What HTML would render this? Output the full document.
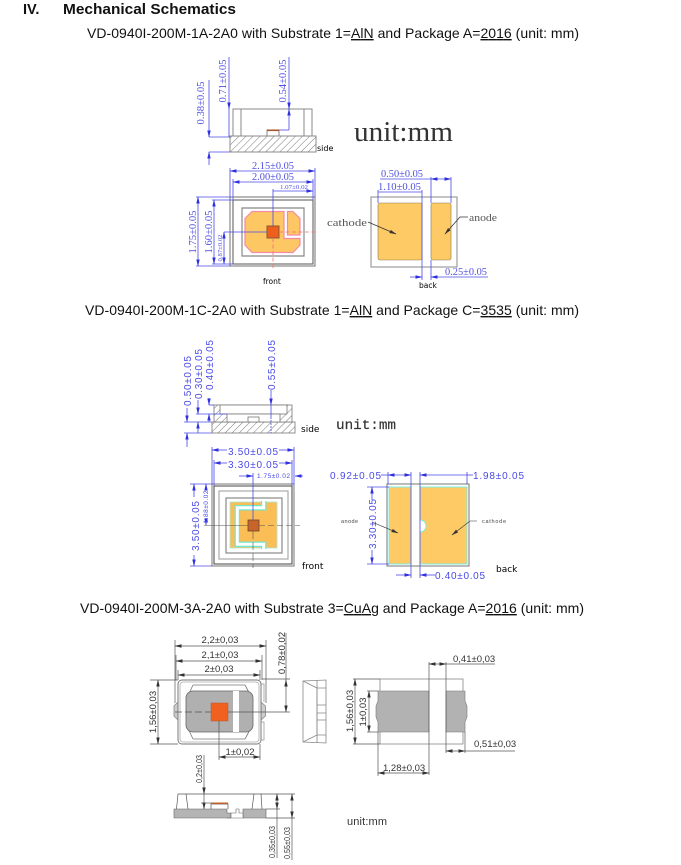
<!DOCTYPE html>
<html><head><meta charset="utf-8"><style>
html,body{margin:0;padding:0;background:#fff}
svg{display:block}
.t{font-family:"Liberation Sans",sans-serif;font-size:14px;fill:#111}
.h{font-family:"Liberation Sans",sans-serif;font-size:14.5px;font-weight:bold;fill:#111}
.u{text-decoration:underline}
.b{font-family:"Liberation Serif",serif;font-size:10px;fill:#5050e0}
.m{font-family:"Liberation Sans",sans-serif;font-size:10px;fill:#4a4ae8}
.s{font-family:"Liberation Sans",sans-serif;font-size:9.5px;fill:#333}
.k{font-family:"DejaVu Sans",sans-serif;font-size:8px;fill:#000}
.bl path,.bl line,.bl polyline{stroke:#4a4ae8;stroke-width:.8;fill:none}
.d{filter:blur(.3px)}
</style></head><body>
<svg width="681" height="865" viewBox="0 0 681 865" xmlns="http://www.w3.org/2000/svg">
<defs>
<pattern id="hatch" width="5" height="5" patternUnits="userSpaceOnUse" patternTransform="rotate(-45)"><rect width="5" height="5" fill="#fff"/><line x1="0" y1="0" x2="5" y2="0" stroke="#777" stroke-width="1"/></pattern>
<marker id="a" markerWidth="7" markerHeight="5" refX="6.5" refY="2.5" orient="auto-start-reverse" markerUnits="userSpaceOnUse"><path d="M0 .8L7 2.5L0 4.2z" fill="#3030e0"/></marker>
<marker id="g" markerWidth="7" markerHeight="5" refX="6.5" refY="2.5" orient="auto-start-reverse" markerUnits="userSpaceOnUse"><path d="M0 .8L7 2.5L0 4.2z" fill="#333"/></marker>
</defs>

<text class="h" x="23" y="14">IV.</text>
<text class="h" x="63" y="14" textLength="173" lengthAdjust="spacingAndGlyphs">Mechanical Schematics</text>
<text class="t" x="87" y="38" textLength="492">VD-0940I-200M-1A-2A0 with Substrate 1=<tspan class="u">AlN</tspan> and Package A=<tspan class="u">2016</tspan> (unit: mm)</text>
<text class="t" x="85" y="315" textLength="494">VD-0940I-200M-1C-2A0 with Substrate 1=<tspan class="u">AlN</tspan> and Package C=<tspan class="u">3535</tspan> (unit: mm)</text>
<text class="t" x="80" y="613" textLength="504">VD-0940I-200M-3A-2A0 with Substrate 3=<tspan class="u">CuAg</tspan> and Package A=<tspan class="u">2016</tspan> (unit: mm)</text>

<g class="d">
<!-- Diagram 1 side -->
<g fill="none" stroke="#888" stroke-width="1">
<rect x="233" y="109" width="79" height="27"/><line x1="241" y1="109" x2="241" y2="136"/><line x1="304" y1="109" x2="304" y2="136"/>
<rect x="230" y="136" width="86" height="16" fill="url(#hatch)"/>
<rect x="267" y="130" width="12" height="6"/></g>
<rect x="267" y="129.5" width="12" height="1.6" fill="#a5552a"/>
<g class="bl">
<line x1="229" y1="57" x2="229" y2="109" marker-end="url(#a)"/><line x1="229" y1="109" x2="229" y2="137"/>
<line x1="289" y1="57" x2="289" y2="109" marker-end="url(#a)"/><line x1="289" y1="109" x2="289" y2="130" marker-start="url(#a)"/><line x1="279" y1="130" x2="289" y2="130"/>
<line x1="209" y1="80" x2="209" y2="137" marker-end="url(#a)"/><line x1="209" y1="137" x2="230" y2="137"/>
<line x1="209" y1="152" x2="230" y2="152"/><line x1="209" y1="165" x2="209" y2="152" marker-end="url(#a)"/>
</g>
<g class="b">
<text transform="translate(204,103) rotate(-90)" text-anchor="middle" textLength="43" lengthAdjust="spacingAndGlyphs">0.38±0.05</text>
<text transform="translate(226,81) rotate(-90)" text-anchor="middle" textLength="43" lengthAdjust="spacingAndGlyphs">0.71±0.05</text>
<text transform="translate(286,81) rotate(-90)" text-anchor="middle" textLength="43" lengthAdjust="spacingAndGlyphs">0.54±0.05</text>
</g>
<text class="k" x="317" y="151">side</text>
<text x="354" y="141" textLength="99" lengthAdjust="spacingAndGlyphs" style="font-family:'Liberation Serif',serif;font-size:29px;fill:#333">unit:mm</text>

<!-- Diagram 1 front -->
<g fill="#fff" stroke="#888">
<rect x="230" y="197" width="85" height="69" stroke-width="1.2"/>
<rect x="233" y="200" width="80" height="64" stroke-width="1" stroke="#555"/>
<path d="M242 208H304V256H242z" fill="#fff" stroke="#888" stroke-width="1.2"/>
</g>
<path d="M252 211.500H284V238.500H300V245L293 252.500H252L245 245V218.500z" fill="#fdc763" stroke="#f58aa6" stroke-width="1.2"/>
<path d="M287.500 211.500H293L300 218.500V235H287.500z" fill="#fdc763" stroke="#f58aa6" stroke-width="1.2"/>
<rect x="267" y="226" width="12" height="12" fill="#ee5f1d" stroke="#8a5a2c" stroke-width="1"/>
<g stroke="#ee7070" stroke-width=".8" stroke-dasharray="4 2.500"><line x1="279" y1="232" x2="316" y2="232"/><line x1="273" y1="238" x2="273" y2="268"/></g>
<g class="bl">
<line x1="230" y1="171" x2="315" y2="171" marker-start="url(#a)" marker-end="url(#a)"/>
<line x1="233" y1="182" x2="313" y2="182" marker-start="url(#a)" marker-end="url(#a)"/>
<line x1="273" y1="191" x2="313" y2="191" marker-end="url(#a)"/>
<line x1="230" y1="168" x2="230" y2="197"/><line x1="315" y1="168" x2="315" y2="197"/><line x1="233" y1="179" x2="233" y2="200"/><line x1="313" y1="179" x2="313" y2="200"/>
<line x1="273" y1="189" x2="273" y2="226"/>
<line x1="198" y1="197" x2="198" y2="266" marker-start="url(#a)" marker-end="url(#a)"/><line x1="196" y1="197" x2="230" y2="197"/><line x1="196" y1="266" x2="230" y2="266"/>
<line x1="214" y1="200" x2="214" y2="264" marker-start="url(#a)" marker-end="url(#a)"/><line x1="212" y1="200" x2="233" y2="200"/><line x1="212" y1="264" x2="233" y2="264"/>
<line x1="224" y1="232" x2="224" y2="264" marker-start="url(#a)" marker-end="url(#a)"/><line x1="224" y1="232" x2="267" y2="232"/>
</g>
<g class="b">
<text x="252" y="169" textLength="42" lengthAdjust="spacingAndGlyphs">2.15±0.05</text>
<text x="252" y="180" textLength="42" lengthAdjust="spacingAndGlyphs">2.00±0.05</text>
<text x="280" y="189" textLength="28" lengthAdjust="spacingAndGlyphs" style="font-size:6px">1.07±0.02</text>
<text transform="translate(196,232) rotate(-90)" text-anchor="middle" textLength="43" lengthAdjust="spacingAndGlyphs">1.75±0.05</text>
<text transform="translate(212,232) rotate(-90)" text-anchor="middle" textLength="43" lengthAdjust="spacingAndGlyphs">1.60±0.05</text>
<text transform="translate(222,248) rotate(-90)" text-anchor="middle" textLength="27" lengthAdjust="spacingAndGlyphs" style="font-size:6px">0.87±0.02</text>
</g>
<text class="k" x="263" y="284" style="font-size:7.500px">front</text>

<!-- Diagram 1 back -->
<rect x="371" y="197" width="86" height="70" fill="#fff" stroke="#888" stroke-width="1"/>
<rect x="378" y="203" width="44" height="57" rx="2" fill="#fdca66" stroke="#8a7a50" stroke-width=".6"/>
<rect x="431" y="203" width="20" height="57" rx="2" fill="#fdca66" stroke="#8a7a50" stroke-width=".6"/>
<g class="bl">
<line x1="380" y1="179" x2="431" y2="179"/><line x1="431" y1="179" x2="451" y2="179" marker-start="url(#a)" marker-end="url(#a)"/>
<line x1="431" y1="177" x2="431" y2="203"/><line x1="451" y1="177" x2="451" y2="203"/>
<line x1="378" y1="192" x2="422" y2="192"/><line x1="378" y1="190" x2="378" y2="203"/><line x1="422" y1="190" x2="422" y2="280"/><line x1="431" y1="260" x2="431" y2="280"/>
<line x1="410" y1="277" x2="422" y2="277" marker-end="url(#a)"/><line x1="431" y1="277" x2="488" y2="277" marker-start="url(#a)"/>
</g>
<g stroke="#333" stroke-width=".8" fill="none">
<path d="M368 222L396 234" marker-end="url(#g)"/><path d="M468 217H460L445 234" marker-end="url(#g)"/></g>
<g class="b">
<text x="381" y="177" textLength="42" lengthAdjust="spacingAndGlyphs">0.50±0.05</text>
<text x="378" y="190" textLength="43" lengthAdjust="spacingAndGlyphs">1.10±0.05</text>
<text x="445" y="275" textLength="42" lengthAdjust="spacingAndGlyphs">0.25±0.05</text>
</g>
<g style="font-family:'Liberation Serif',serif;font-size:11px;fill:#555">
<text x="327" y="226" textLength="40" lengthAdjust="spacingAndGlyphs">cathode</text><text x="469" y="221" textLength="28" lengthAdjust="spacingAndGlyphs">anode</text></g>
<text class="k" x="419" y="288" style="font-size:7.500px">back</text>

<!-- Diagram 2 side -->
<g stroke="#777" stroke-width=".8">
<rect x="212" y="422" width="83" height="11" fill="url(#hatch)"/>
<rect x="214" y="405" width="78" height="17" fill="url(#hatch)"/>
<rect x="220" y="405" width="67" height="9" fill="#fff"/>
<rect x="227" y="414" width="53" height="8" fill="#fff"/>
<rect x="248" y="417" width="11" height="5" fill="#fff"/></g>
<g class="bl">
<line x1="209" y1="398" x2="209" y2="405" marker-end="url(#a)"/><line x1="209" y1="405" x2="214" y2="405"/><line x1="209" y1="414" x2="209" y2="422" marker-start="url(#a)"/>
<line x1="198" y1="400" x2="198" y2="414" marker-end="url(#a)"/><line x1="196" y1="414" x2="227" y2="414"/><line x1="198" y1="422" x2="198" y2="433" marker-start="url(#a)"/>
<line x1="187" y1="408" x2="187" y2="422" marker-end="url(#a)"/><line x1="184" y1="422" x2="212" y2="422"/><line x1="187" y1="433" x2="187" y2="447" marker-start="url(#a)"/><line x1="184" y1="433" x2="212" y2="433"/>
<line x1="271" y1="390" x2="271" y2="405" marker-end="url(#a)"/><line x1="271" y1="405" x2="271" y2="417"/><line x1="271" y1="417" x2="271" y2="433" stroke-dasharray="2 1"/>
</g>
<g class="m">
<text transform="translate(191,381) rotate(-90)" text-anchor="middle" textLength="50">0.50±0.05</text>
<text transform="translate(202,374) rotate(-90)" text-anchor="middle" textLength="50">0.30±0.05</text>
<text transform="translate(213,365) rotate(-90)" text-anchor="middle" textLength="50">0.40±0.05</text>
<text transform="translate(275,365) rotate(-90)" text-anchor="middle" textLength="50">0.55±0.05</text>
</g>
<text class="k" x="301" y="432" style="font-size:9px">side</text>
<text x="336" y="429" textLength="60" lengthAdjust="spacingAndGlyphs" style="font-family:'Liberation Mono',monospace;font-size:14px;fill:#333;stroke:#333;stroke-width:.2">unit:mm</text>

<!-- Diagram 2 front -->
<g fill="#fff">
<rect x="212" y="484" width="82" height="82" stroke="#777" stroke-width="1"/>
<rect x="214" y="486" width="78" height="78" stroke="#444" stroke-width="1"/>
<rect x="219" y="491" width="69" height="68" stroke="#aaa" stroke-width="1.200"/>
<rect x="226" y="498" width="56" height="55" stroke="#888" stroke-width="1.200"/>
</g>
<rect x="230" y="502" width="47" height="46" fill="#fbbd55" stroke="#a8ead8" stroke-width=".8"/>
<path d="M263.700 501V507.700H237.300V544.300H263.700V549" fill="none" stroke="#6fe8d0" stroke-width="5.500"/>
<path d="M263.700 501V507.700H237.300V544.300H263.700V549" fill="none" stroke="#fff" stroke-width="3"/>
<rect x="248" y="520" width="11" height="11" fill="#c8642a" stroke="#6a4a2a" stroke-width=".8"/>
<g stroke="#555" stroke-width=".6"><line x1="204" y1="525.500" x2="248" y2="525.500"/><line x1="259" y1="525.500" x2="300" y2="525.500" stroke-dasharray="6 3"/><line x1="253" y1="531" x2="253" y2="568" stroke-dasharray="8 3"/></g>
<g class="bl">
<line x1="212" y1="450" x2="227" y2="450" marker-start="url(#a)"/><line x1="279" y1="450" x2="294" y2="450" marker-end="url(#a)"/>
<line x1="214" y1="463" x2="227" y2="463" marker-start="url(#a)"/><line x1="279" y1="463" x2="292" y2="463" marker-end="url(#a)"/>
<line x1="212" y1="447" x2="212" y2="484"/><line x1="294" y1="447" x2="294" y2="484"/><line x1="292" y1="460" x2="292" y2="486"/><line x1="214" y1="460" x2="214" y2="486"/>
<line x1="239" y1="476" x2="253" y2="476" marker-end="url(#a)"/><line x1="295" y1="476" x2="303" y2="476" marker-start="url(#a)"/><line x1="253" y1="473" x2="253" y2="520"/>
<line x1="190" y1="484" x2="212" y2="484"/><line x1="190" y1="566" x2="212" y2="566"/>
<line x1="194" y1="484" x2="194" y2="497" marker-start="url(#a)"/><line x1="194" y1="555" x2="194" y2="566" marker-end="url(#a)"/>
<line x1="206" y1="484" x2="206" y2="490" marker-start="url(#a)"/><line x1="206" y1="518" x2="206" y2="525" marker-end="url(#a)"/>
</g>
<g class="m">
<text x="228" y="455" textLength="50">3.50±0.05</text>
<text x="228" y="468" textLength="50">3.30±0.05</text>
<text transform="translate(199,526) rotate(-90)" text-anchor="middle" textLength="50">3.50±0.05</text>
<text x="257" y="478" textLength="33" style="font-size:6.500px">1.75±0.02</text>
<text transform="translate(208,507) rotate(-90)" text-anchor="middle" textLength="33" style="font-size:6.500px">1.88±0.02</text>
</g>
<text class="k" x="302" y="569" style="font-size:9px">front</text>

<!-- Diagram 2 back -->
<rect x="387" y="484" width="82" height="82" fill="#fff" stroke="#777" stroke-width="1"/>
<rect x="389" y="487" width="22" height="77" fill="#fdca66" stroke="#7ceee0" stroke-width="1"/>
<rect x="420" y="487" width="47" height="77" fill="#fdca66" stroke="#7ceee0" stroke-width="1"/>
<path d="M420 520A6 6 0 0 1 420 532" fill="#fff" stroke="#7ceee0" stroke-width="1"/>
<g class="bl">
<line x1="388" y1="475" x2="411" y2="475" marker-start="url(#a)" marker-end="url(#a)"/><line x1="381" y1="475" x2="388" y2="475"/>
<line x1="420" y1="475" x2="467" y2="475" marker-start="url(#a)"/><line x1="467" y1="475" x2="473" y2="475"/>
<line x1="411" y1="472" x2="411" y2="578"/><line x1="420" y1="472" x2="420" y2="578"/><line x1="388" y1="472" x2="388" y2="484"/><line x1="467" y1="472" x2="467" y2="484"/>
<line x1="396" y1="575" x2="411" y2="575" marker-end="url(#a)"/><line x1="420" y1="575" x2="435" y2="575" marker-start="url(#a)"/>
<line x1="367" y1="487" x2="389" y2="487"/><line x1="367" y1="564" x2="389" y2="564"/>
<line x1="372" y1="487" x2="372" y2="500" marker-start="url(#a)"/><line x1="372" y1="550" x2="372" y2="564" marker-end="url(#a)"/>
</g>
<g class="m">
<text x="330" y="479" textLength="51">0.92±0.05</text>
<text x="473" y="479" textLength="51">1.98±0.05</text>
<text x="435" y="579" textLength="50">0.40±0.05</text>
<text transform="translate(376,524) rotate(-90)" text-anchor="middle" textLength="50">3.30±0.05</text>
</g>
<g stroke="#333" stroke-width=".6" fill="none"><path d="M372 522L398 533" marker-end="url(#g)"/><path d="M477 521H470L452 535" marker-end="url(#g)"/></g>
<g style="font-family:'Liberation Sans',sans-serif;font-size:5.500px;fill:#444"><text x="341" y="523" textLength="17">anode</text><text x="482" y="523" textLength="24">cathode</text></g>
<text class="k" x="496" y="572" style="font-size:9px">back</text>

<!-- Diagram 3 front -->
<path d="M178 702L174 706V716L178 720z" fill="#ccc" stroke="#888" stroke-width=".8"/>
<path d="M261 702L265.500 706V716L261 720z" fill="#ccc" stroke="#888" stroke-width=".8"/>
<path d="M261 684H264V702M261 722H264V740H261" fill="none" stroke="#999" stroke-width=".8"/>
<rect x="178" y="680" width="83" height="64" rx="4" fill="#fff" stroke="#777" stroke-width="1"/>
<rect x="180" y="682" width="79" height="60" rx="3" fill="#fff" stroke="#aaa" stroke-width=".8"/>
<path d="M193 685H245M193 739H245M186 700L193 685M253 700L245 685M186 724L193 739M253 724L245 739" stroke="#777" stroke-width=".8" fill="none"/>
<rect x="186" y="691" width="67" height="41" rx="7" fill="#b0b0b0" stroke="#666" stroke-width=".8"/>
<rect x="233" y="691" width="6" height="41" fill="#fff"/>
<rect x="211" y="703" width="17" height="18" fill="#f0601e" stroke="#b85a30" stroke-width=".5"/>
<g stroke="#555" stroke-width=".7" fill="none">
<line x1="228" y1="712" x2="290" y2="712"/><line x1="175" y1="712" x2="211" y2="712" stroke-dasharray="7 3"/><line x1="219" y1="721" x2="219" y2="760"/>
<line x1="175" y1="640" x2="175" y2="703"/><line x1="266" y1="640" x2="266" y2="703"/><line x1="176" y1="655" x2="176" y2="680"/><line x1="262" y1="655" x2="262" y2="680"/><line x1="178" y1="670" x2="178" y2="680"/><line x1="260" y1="670" x2="260" y2="680"/>
<line x1="175" y1="646" x2="266" y2="646" marker-start="url(#g)" marker-end="url(#g)"/>
<line x1="176" y1="661" x2="262" y2="661" marker-start="url(#g)" marker-end="url(#g)"/>
<line x1="178" y1="675" x2="260" y2="675" marker-start="url(#g)" marker-end="url(#g)"/>
<line x1="286" y1="633" x2="286" y2="680"/><line x1="286" y1="680" x2="286" y2="712" marker-start="url(#g)" marker-end="url(#g)"/><line x1="262" y1="679" x2="290" y2="679"/>
<line x1="158" y1="680" x2="158" y2="744" marker-start="url(#g)" marker-end="url(#g)"/><line x1="150" y1="680" x2="178" y2="680"/><line x1="150" y1="744" x2="178" y2="744"/>
<line x1="219" y1="757" x2="260" y2="757" marker-start="url(#g)" marker-end="url(#g)"/><line x1="260" y1="744" x2="260" y2="760"/>
</g>
<g class="s">
<text x="220" y="643" text-anchor="middle">2,2±0,03</text>
<text x="220" y="658" text-anchor="middle">2,1±0,03</text>
<text x="219" y="672" text-anchor="middle">2±0,03</text>
<text x="240" y="755" text-anchor="middle">1±0,02</text>
<text transform="translate(285,653) rotate(-90)" text-anchor="middle">0,78±0,02</text>
<text transform="translate(156,712) rotate(-90)" text-anchor="middle">1,56±0,03</text>
</g>
<!-- side view -->
<g fill="#fff" stroke="#888" stroke-width=".8">
<path d="M303 681L326 680V743L303 742z"/>
<path d="M303 681L317 688V735L303 742" fill="none"/>
<path d="M317 680V743M317 688H326M317 735H326M317 705H326M317 713H326M317 720H326" fill="none"/></g>

<!-- Diagram 3 back -->
<rect x="380" y="679" width="83" height="65" fill="#fff" stroke="#888" stroke-width=".8"/>
<path d="M378 691H429V732H378V722L376 717V706L378 701z" fill="#b2b2b2" stroke="#777" stroke-width=".6"/>
<path d="M446 691H465V701L467 706V717L465 722V732H446z" fill="#b2b2b2" stroke="#777" stroke-width=".6"/>
<g stroke="#555" stroke-width=".7" fill="none">
<line x1="429" y1="662" x2="429" y2="775"/><line x1="446" y1="662" x2="446" y2="753"/><line x1="465" y1="732" x2="465" y2="753"/>
<line x1="429" y1="664" x2="446" y2="664" marker-start="url(#g)" marker-end="url(#g)"/><line x1="446" y1="664" x2="495" y2="664"/>
<line x1="355" y1="679" x2="355" y2="744" marker-start="url(#g)" marker-end="url(#g)"/><line x1="353" y1="679" x2="380" y2="679"/><line x1="353" y1="744" x2="380" y2="744"/>
<line x1="369" y1="691" x2="369" y2="732" marker-start="url(#g)" marker-end="url(#g)"/><line x1="367" y1="691" x2="378" y2="691"/><line x1="367" y1="732" x2="378" y2="732"/>
<line x1="378" y1="732" x2="378" y2="776"/><line x1="378" y1="773" x2="429" y2="773" marker-start="url(#g)" marker-end="url(#g)"/>
<line x1="446" y1="751" x2="465" y2="751" marker-start="url(#g)" marker-end="url(#g)"/><line x1="465" y1="751" x2="515" y2="751"/>
</g>
<g class="s">
<text x="453" y="662">0,41±0,03</text><text x="474" y="747">0,51±0,03</text><text x="383" y="771">1,28±0,03</text>
<text transform="translate(353,711) rotate(-90)" text-anchor="middle">1,56±0,03</text>
<text transform="translate(366,712) rotate(-90)" text-anchor="middle">1±0,03</text>
</g>

<!-- Diagram 3 side -->
<path d="M174 809H227V813H231V818H174zM243 809H266V818H243z" fill="#b4b4b4" stroke="#666" stroke-width=".6"/>
<path d="M227 818H243V813H239V809H236V813H231V818" fill="#fff" stroke="#666" stroke-width=".6"/>
<g stroke="#555" stroke-width=".7" fill="none">
<line x1="178" y1="794" x2="261" y2="794"/><path d="M178 794L176.500 809M186 794L188 809M261 794L262 809M254 794L252 809"/>
<path d="M211 809V804H228V809"/></g>
<rect x="211" y="802.500" width="17" height="1.500" fill="#c0602a"/>
<g stroke="#555" stroke-width=".7" fill="none">
<line x1="204" y1="755" x2="204" y2="794" marker-end="url(#g)"/><line x1="204" y1="794" x2="204" y2="809" marker-end="url(#g)"/><line x1="201" y1="803" x2="211" y2="803"/>
<line x1="261" y1="794" x2="295" y2="794"/><line x1="266" y1="809" x2="280" y2="809"/><line x1="266" y1="818" x2="295" y2="818"/>
<line x1="277" y1="794" x2="277" y2="809" marker-start="url(#g)" marker-end="url(#g)"/><line x1="277" y1="809" x2="277" y2="858"/>
<line x1="292" y1="794" x2="292" y2="818" marker-start="url(#g)" marker-end="url(#g)"/><line x1="292" y1="818" x2="292" y2="860"/>
</g>
<g class="s" style="font-size:8.500px">
<text transform="translate(202,769) rotate(-90)" text-anchor="middle" textLength="28" lengthAdjust="spacingAndGlyphs">0,2±0,03</text>
<text transform="translate(275,842) rotate(-90)" text-anchor="middle" textLength="32" lengthAdjust="spacingAndGlyphs">0,35±0,03</text>
<text transform="translate(290,843) rotate(-90)" text-anchor="middle" textLength="32" lengthAdjust="spacingAndGlyphs">0,55±0,03</text>
</g>
<text x="347" y="825" textLength="40" style="font-family:'Liberation Sans',sans-serif;font-size:11px;fill:#333">unit:mm</text>
</g>
</svg>
</body></html>
